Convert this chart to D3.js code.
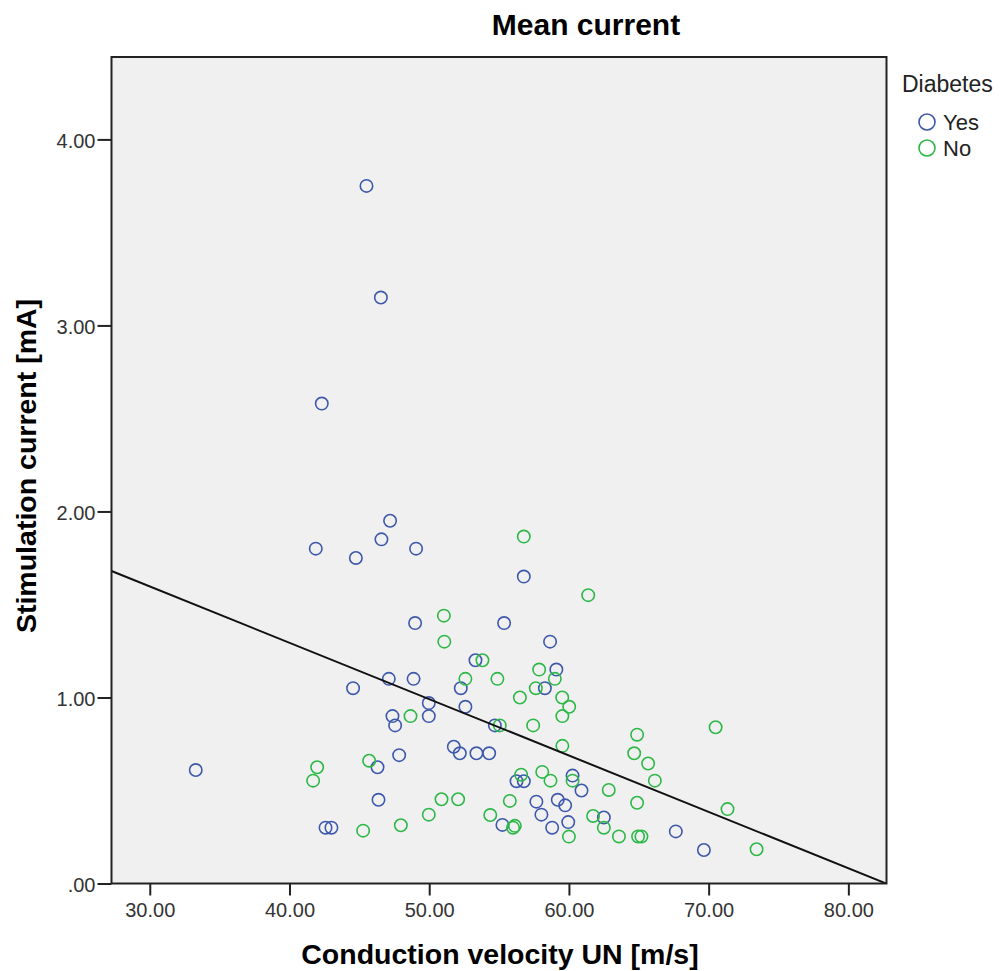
<!DOCTYPE html>
<html><head><meta charset="utf-8">
<script src="https://cdn.jsdelivr.net/npm/d3@7"></script>
<style>
html,body{margin:0;padding:0;background:#fff;}
svg{display:block;}
</style></head>
<body>
<svg id="chart" width="1002" height="971"></svg>
<script>
// ---- data ----
const chartTitle = "Mean current";
const xLabel = "Conduction velocity UN [m/s]";
const yLabel = "Stimulation current [mA]";
const legendTitle = "Diabetes";
const groups = ["Yes", "No"];
const xTicks = [30, 40, 50, 60, 70, 80];
const yTicks = [0, 1, 2, 3, 4];

const yesVelocity = [45.51,46.54,42.31,47.2,46.58,41.88,49.06,44.75,56.77,48.99,55.36,58.65,53.31,59.1,47.11,48.88,44.55,52.26,58.28,49.97,52.59,49.97,47.37,47.56,54.7,51.76,52.19,53.38,54.29,47.85,33.29,46.3,56.25,56.77,60.26,60.9,46.37,57.67,59.2,59.73,58.03,62.5,59.95,55.24,58.8,42.58,43.0,67.65,69.66];
const yesCurrent  = [3.75,3.15,2.58,1.95,1.85,1.80,1.80,1.75,1.65,1.40,1.40,1.30,1.20,1.15,1.10,1.10,1.05,1.05,1.05,0.97,0.95,0.90,0.90,0.85,0.85,0.735,0.70,0.70,0.70,0.69,0.61,0.625,0.55,0.55,0.58,0.50,0.45,0.44,0.45,0.42,0.37,0.355,0.33,0.315,0.30,0.30,0.30,0.28,0.18];

const noVelocity = [56.77,61.38,51.05,51.08,53.81,57.87,52.59,54.88,58.99,57.63,56.49,59.52,60.02,48.66,59.53,55.05,57.44,70.5,64.88,59.53,64.67,45.7,65.67,41.98,58.09,56.58,58.68,60.26,41.69,66.15,62.85,50.88,52.07,55.77,64.88,71.35,49.97,54.37,61.73,47.97,56.0,56.13,62.5,45.27,60.0,63.58,64.95,65.19,73.43];
const noCurrent  = [1.865,1.55,1.44,1.30,1.20,1.15,1.10,1.10,1.10,1.05,1.00,1.00,0.95,0.90,0.90,0.85,0.85,0.84,0.80,0.74,0.70,0.66,0.645,0.625,0.60,0.585,0.553,0.553,0.553,0.553,0.503,0.453,0.453,0.444,0.434,0.40,0.37,0.368,0.363,0.313,0.30,0.31,0.30,0.284,0.252,0.253,0.253,0.253,0.184];

const fitIntercept = 2.506;
const fitSlope = -0.0303;

// ---- layout ----
const colors = {Yes: "#3e58ac", No: "#2eb848"};
const plot = {left: 111.5, right: 886.5, top: 57, bottom: 883.5};
const xDomain = [27.26, 82.73];
const yDomain = [0, 4.443];

const svg = d3.select("#chart");
const x = d3.scaleLinear().domain(xDomain).range([plot.left, plot.right]);
const y = d3.scaleLinear().domain(yDomain).range([plot.bottom, plot.top]);

const font = "'Liberation Sans', Arial, sans-serif";

// plot background
svg.append("rect")
  .attr("x", plot.left).attr("y", plot.top)
  .attr("width", plot.right - plot.left).attr("height", plot.bottom - plot.top)
  .attr("fill", "#f0f0f0");

// clip
svg.append("clipPath").attr("id", "clip").append("rect")
  .attr("x", plot.left).attr("y", plot.top)
  .attr("width", plot.right - plot.left).attr("height", plot.bottom - plot.top);

// points
const yesData = yesVelocity.map((v, i) => ({x: v, y: yesCurrent[i], g: "Yes"}));
const noData = noVelocity.map((v, i) => ({x: v, y: noCurrent[i], g: "No"}));
const pts = svg.append("g").attr("clip-path", "url(#clip)");
pts.selectAll("circle.pt").data(yesData.concat(noData)).join("circle")
  .attr("class", "pt")
  .attr("cx", d => x(d.x)).attr("cy", d => y(d.y)).attr("r", 6.2)
  .attr("fill", "none").attr("stroke", d => colors[d.g]).attr("stroke-width", 1.6);

// fit line
const line = d3.line().x(d => x(d)).y(d => y(fitIntercept + fitSlope * d));
pts.append("path").datum(xDomain).attr("d", line)
  .attr("fill", "none").attr("stroke", "#111").attr("stroke-width", 2);

// frame
svg.append("rect")
  .attr("x", plot.left).attr("y", plot.top)
  .attr("width", plot.right - plot.left).attr("height", plot.bottom - plot.top)
  .attr("fill", "none").attr("stroke", "#222").attr("stroke-width", 2);

// axes
const xAxis = d3.axisBottom(x).tickValues(xTicks).tickFormat(d3.format(".2f")).tickSize(12).tickPadding(7);
const gx = svg.append("g").attr("transform", `translate(0,${plot.bottom})`).call(xAxis);
gx.select(".domain").remove();
gx.selectAll("line").attr("stroke", "#222").attr("stroke-width", 2);
gx.selectAll("text").attr("font-family", font).attr("font-size", 20).attr("fill", "#333");

const yFmt = d => d === 0 ? ".00" : d3.format(".2f")(d);
const yAxis = d3.axisLeft(y).tickValues(yTicks).tickFormat(yFmt).tickSize(14).tickPadding(2);
const gy = svg.append("g").attr("transform", `translate(${plot.left},0)`).call(yAxis);
gy.select(".domain").remove();
gy.selectAll("line").attr("stroke", "#222").attr("stroke-width", 2);
gy.selectAll("text").attr("font-family", font).attr("font-size", 20).attr("dy", "0.4em").attr("fill", "#333");

// titles
svg.append("text").attr("x", 586).attr("y", 35).attr("text-anchor", "middle")
  .attr("font-family", font).attr("font-weight", "bold").attr("font-size", 30).attr("fill", "#000")
  .text(chartTitle);
svg.append("text").attr("x", 500).attr("y", 964).attr("text-anchor", "middle")
  .attr("font-family", font).attr("font-weight", "bold").attr("font-size", 28.5).attr("fill", "#000")
  .text(xLabel);
svg.append("text").attr("transform", "translate(36,466) rotate(-90)").attr("text-anchor", "middle")
  .attr("font-family", font).attr("font-weight", "bold").attr("font-size", 28.5).attr("fill", "#000")
  .text(yLabel);

// legend
svg.append("text").attr("x", 902).attr("y", 92)
  .attr("font-family", font).attr("font-size", 23).attr("fill", "#222").text(legendTitle);
const lg = svg.append("g").selectAll("g").data(groups).join("g")
  .attr("transform", (d, i) => `translate(927,${122 + i * 26})`);
lg.append("circle").attr("r", 8).attr("fill", "none")
  .attr("stroke", d => colors[d]).attr("stroke-width", 1.6);
lg.append("text").attr("x", 16).attr("y", 8)
  .attr("font-family", font).attr("font-size", 22).attr("fill", "#222").text(d => d);
</script>
</body></html>
